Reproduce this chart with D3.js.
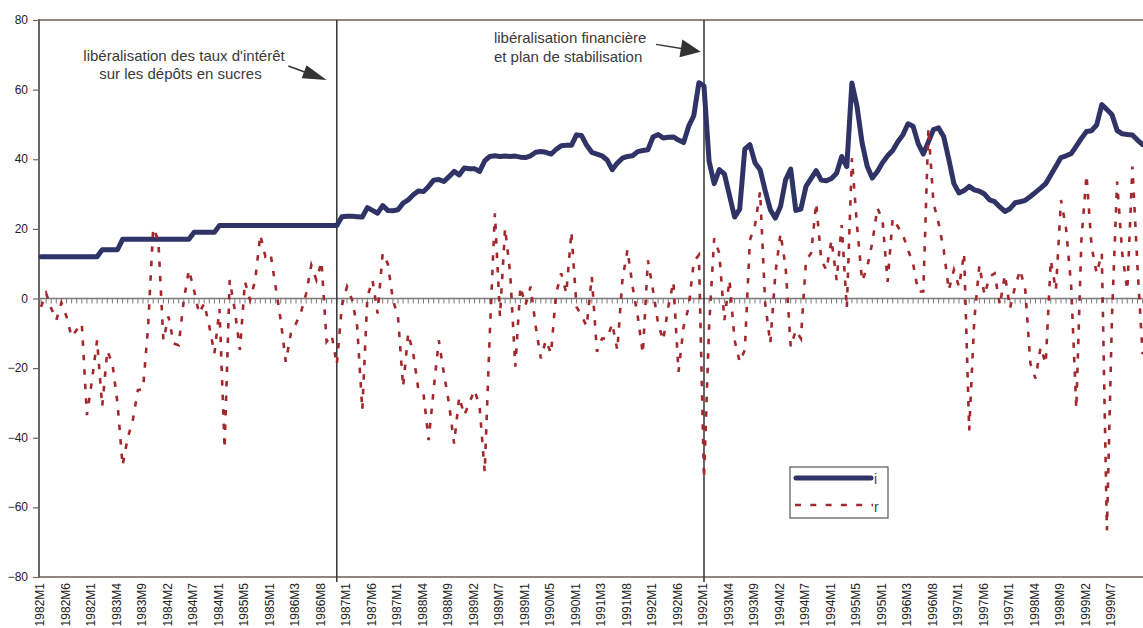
<!DOCTYPE html>
<html>
<head>
<meta charset="utf-8">
<script src="https://cdn.jsdelivr.net/npm/d3@7"></script>
<style>
html,body{margin:0;padding:0;background:#fff;}
svg{display:block;font-family:"Liberation Sans",Arial,sans-serif;}
</style>
</head>
<body>
<svg id="chart" width="1143" height="628"></svg>
<script>
// ---------- data ----------
const startYear = 1982;
const nMonths = 217; // 1982M1 .. 2000M1
const categories = [];
for (let k = 0; k < nMonths; k++) {
  categories.push((startYear + Math.floor(k / 12)) + "M" + (k % 12 + 1));
}

// nominal interest rate i
const seriesI = [
  12,12,12,12,12,12,12,12,12,12,12,12,
  14,14,14,14,
  17,17,17,17,17,17,17,17,17,17,17,17,17,17,
  19,19,19,19,19,
  21,21,21,21,21,21,21,21,21,21,21,21,21,21,21,21,21,21,21,21,21,21,21,21,
  23.5,23.6,23.6,23.5,23.4,
  26.1,25.3,24.5,26.7,25.3,25.2,25.5,27.4,28.3,29.8,30.9,30.7,32.2,34.0,34.2,33.6,35.0,36.5,35.5,37.5,37.3,37.3,36.5,
  39.5,40.8,41.0,40.8,40.9,40.8,40.9,40.6,40.5,41.0,42.0,42.2,42.0,41.5,42.8,43.9,44.0,44.0,47.0,46.8,
  44.0,42.0,41.5,41.0,39.8,37.0,38.9,40.3,40.8,41.0,42.2,42.5,42.7,46.4,47.1,46.1,46.3,46.4,45.5,44.8,
  49.5,52.5,62.0,61.0,39.4,33.0,37.0,35.8,29.6,23.4,25.7,42.9,44.2,39.0,37.0,31.0,25.5,23.1,26.4,34.1,
  37.2,25.3,25.7,32.2,34.5,36.7,34.0,33.8,34.5,36.0,40.8,37.9,61.9,55.2,44.7,38.0,34.6,36.5,39.0,41.0,
  42.5,45.0,47.0,50.2,49.5,44.5,41.5,45.0,48.5,49.0,46.5,40.0,33.0,30.3,31.0,32.2,31.2,30.8,30.0,28.3,
  27.8,26.3,25.0,25.8,27.5,27.8,28.2,29.3,30.5,31.7,33.0,35.5,38.0,40.5,41.0,41.6,43.8,46.0,48.0,48.2,
  49.9,55.7,54.3,52.8,48.3,47.3,47.1,47.0,45.5,44.2
];

// real interest rate r
const seriesR = [
  -2.4,1.5,-2.8,-6.2,-1.2,-5.2,-11,-9,-7.2,-33.5,-23.5,-12,-31,-15,-18.7,-30,-48,-40,-35,-26.3,
  -26,-8,20.2,16.8,-12,-5.2,-12.9,-13.4,-0.4,8.2,2.4,-4.3,-1.4,-8,-15.8,-3,-43.1,5.3,-3.3,-14.8,
  4.8,-0.4,5.3,18.3,12,13,3.4,-6.2,-18.2,-10,-7.2,-3.8,1.5,9.6,5.3,10.6,-12.4,-10.5,-19,-2,
  3.4,-0.4,-8,-32,0.5,5.3,-4.3,13,10,-0.4,-5.2,-25.4,-10,-15.8,-26.3,-27.3,-40.7,-26,-12,-21.5,
  -30.2,-41.7,-28.3,-33.5,-30,-26.3,-31,-49.8,-10,24.5,-5.2,20.2,7.2,-19.6,3.4,-1.9,3.4,-8,-17.2,-12,
  -15.8,1.5,7.2,1.5,19.2,-2.4,-5,-8,6.3,-15.3,-11.5,-11.5,-7.2,-14.8,5.3,14,3.4,-5,-15.8,11,
  2.4,-7.2,-12,-2.4,4.8,-21.1,-8.1,-2.4,10.6,12.5,-51.7,-8,17.3,13,-6.2,5.3,-12,-18.2,-14.8,16.8,
  21.1,30.7,-1.4,-12.9,7.2,18.7,9.1,-13.9,-9.1,-11.5,11,13,27.4,11,8.2,16.8,5.3,21.1,-2.8,40.3,
  21,5,9,16,26,22.6,4.8,23,20.7,18.3,14,10,2,2,49,27.4,21.6,14,2.4,8.2,
  3.4,13,-37.9,-6,9.6,1,6.3,7.2,-1.9,6.8,-2.8,3.4,8.2,2.4,-18.7,-23,-14,-18.7,11,2.4,
  28.3,20,3.4,-31.6,16.8,35.5,14.9,7.2,13,-66.6,-5,33.6,13,2.4,37.9,9,-16
];

// x tick labels as printed, one every 5 months
const tickLabels = ["1982M1","1982M6","1982M1","1983M4","1983M9","1984M2","1984M7","1984M1",
  "1985M5","1985M1","1986M3","1986M8","1987M1","1987M6","1987M1","1988M4","1988M9","1989M2",
  "1989M7","1989M1","1990M5","1990M1","1991M3","1991M8","1992M1","1992M6","1992M1","1993M4",
  "1993M9","1994M2","1994M7","1994M1","1995M5","1995M1","1996M3","1996M8","1997M1","1997M6",
  "1997M1","1998M4","1998M9","1999M2","1999M7"];
const tickStep = 5;
const yTicks = [-80,-60,-40,-20,0,20,40,60,80];

// events (vertical lines)
const eventMonths = ["1986M11","1992M11"];

// annotation texts
const annoText1 = ["libéralisation des taux d'intérêt","sur les dépôts en sucres"];
const annoText2 = ["libéralisation financière","et plan de stabilisation"];

const seriesNames = ["i","r"];

// ---------- drawing ----------
const W = 1143, H = 628;
const svg = d3.select("#chart");
const plotLeft = 39;
const x = d3.scaleLinear().domain([0, 216]).range([41, 41 + 216 * 5.1]);
const y = d3.scaleLinear().domain([-80, 80]).range([577, 20]);

const colI = "#2f3366", colR = "#a3282d", frame = "#8f8682", axisCol = "#6e6560";

// frame top/bottom
svg.append("line").attr("x1", plotLeft).attr("x2", W).attr("y1", y(80)).attr("y2", y(80))
  .attr("stroke", frame).attr("stroke-width", 2);
svg.append("line").attr("x1", plotLeft).attr("x2", W).attr("y1", y(-80)).attr("y2", y(-80))
  .attr("stroke", frame).attr("stroke-width", 2);

// y axis
const yAxis = d3.axisLeft(y).tickValues(yTicks).tickSize(6).tickPadding(5).tickFormat(d3.format("d"));
const gy = svg.append("g").attr("transform", `translate(${plotLeft},0)`).call(yAxis);
gy.select(".domain").remove();
gy.selectAll(".tick line").attr("stroke", axisCol).attr("stroke-width", 1.2);
gy.selectAll(".tick text").attr("font-size", 12).attr("fill", "#222")
  .attr("font-family", "Liberation Sans, Arial, sans-serif").attr("dy", "0.3em");
svg.append("line").attr("x1", plotLeft).attr("x2", plotLeft).attr("y1", y(80) - 1).attr("y2", y(-80) + 1)
  .attr("stroke", axisCol).attr("stroke-width", 2);

// zero category axis with monthly ticks
const y0 = y(0);
svg.append("line").attr("x1", plotLeft).attr("x2", W).attr("y1", y0).attr("y2", y0)
  .attr("stroke", "#7a7a7a").attr("stroke-width", 1.5);
svg.append("g").selectAll("line").data(categories).join("line")
  .attr("x1", (d, k) => x(k)).attr("x2", (d, k) => x(k))
  .attr("y1", y0).attr("y2", y0 + 5)
  .attr("stroke", "#7a7a7a").attr("stroke-width", 1);

// x labels at bottom
svg.append("g").selectAll("text").data(tickLabels).join("text")
  .attr("transform", (d, j) => `translate(${x(j * tickStep) + 3},583) rotate(-90)`)
  .attr("text-anchor", "end")
  .attr("font-size", 12).attr("fill", "#222")
  .text(d => d);

// event lines
eventMonths.forEach(m => {
  const k = categories.indexOf(m);
  svg.append("line").attr("x1", x(k)).attr("x2", x(k)).attr("y1", y(80)).attr("y2", 582)
    .attr("stroke", "#333").attr("stroke-width", 1.5);
});

// series
const line = d3.line().x((d, k) => x(k)).y(d => y(d));
svg.append("path").attr("d", line(seriesI)).attr("fill", "none").attr("stroke", colI)
  .attr("stroke-width", 5).attr("stroke-linejoin", "round").attr("stroke-linecap", "round");
svg.append("path").attr("d", line(seriesR)).attr("fill", "none").attr("stroke", colR)
  .attr("stroke-width", 2.6).attr("stroke-dasharray", "5.5,9");

// annotations
const annoCol = "#3a3a3a";
function addText(lines, pos) {
  lines.forEach((t, j) => {
    svg.append("text").attr("x", x(pos[j][0])).attr("y", y(pos[j][1]))
      .attr("font-size", 15).attr("fill", annoCol).text(t);
  });
}
addText(annoText1, [[8.3, 68.2], [11.4, 63.05]]);
addText(annoText2, [[88.8, 73.5], [88.8, 67.8]]);

function arrow(k0, v0, k1, v1, len, hw) {
  const x0 = x(k0), yy0 = y(v0), x1 = x(k1), yy1 = y(v1);
  const dx = x1 - x0, dy = yy1 - yy0, L = Math.hypot(dx, dy);
  const ux = dx / L, uy = dy / L;
  const bx = x1 - ux * len, by = yy1 - uy * len;
  svg.append("line").attr("x1", x0).attr("y1", yy0).attr("x2", bx + ux * 2).attr("y2", by + uy * 2)
    .attr("stroke", "#333").attr("stroke-width", 1.5);
  svg.append("path")
    .attr("d", `M${x1},${yy1}L${bx - uy * hw},${by + ux * hw}L${bx + uy * hw},${by - ux * hw}Z`)
    .attr("fill", "#333");
}
arrow(48.5, 66.8, 56.0, 62.75, 24, 7);
arrow(120.6, 73.0, 129.35, 70.9, 20, 9);

// legend
const lg = svg.append("g");
lg.append("rect").attr("x", 790).attr("y", 467).attr("width", 98).attr("height", 51)
  .attr("fill", "#fff").attr("stroke", "#555").attr("stroke-width", 1.2);
lg.append("line").attr("x1", 796).attr("x2", 871).attr("y1", 478).attr("y2", 478)
  .attr("stroke", colI).attr("stroke-width", 5).attr("stroke-linecap", "round");
lg.append("line").attr("x1", 795).attr("x2", 873).attr("y1", 505).attr("y2", 505)
  .attr("stroke", colR).attr("stroke-width", 2.6).attr("stroke-dasharray", "6,9.3");
lg.append("text").attr("x", 874).attr("y", 484).attr("font-size", 14).attr("fill", "#444").text(seriesNames[0]);
lg.append("text").attr("x", 874).attr("y", 512).attr("font-size", 14).attr("fill", "#444").text(seriesNames[1]);
</script>
</body>
</html>
